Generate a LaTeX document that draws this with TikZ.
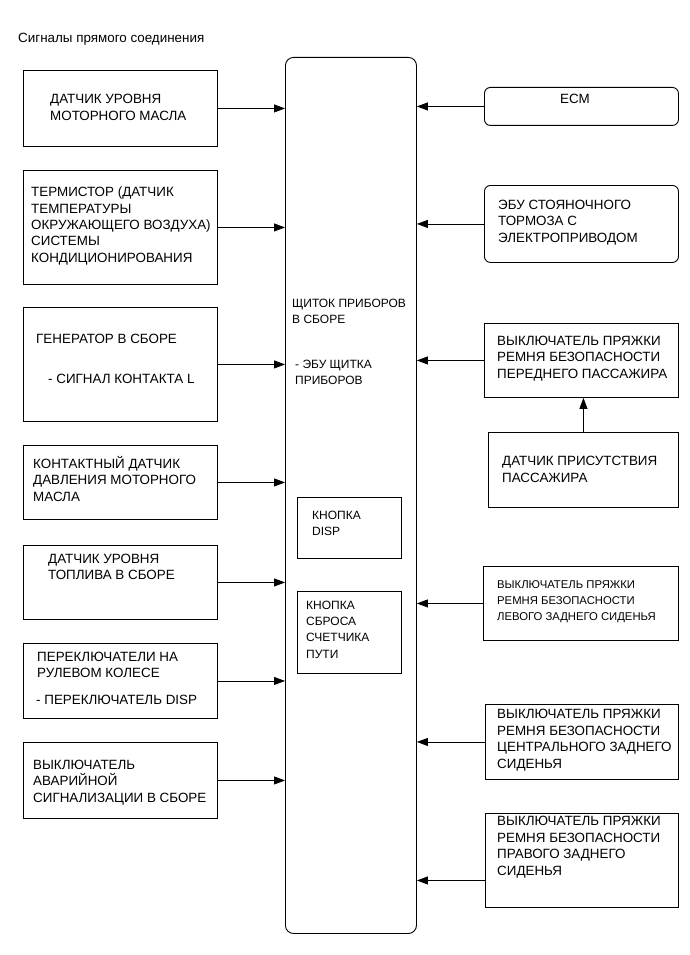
\documentclass[tikz,border=0pt]{standalone}
\usepackage{fontspec}
\setmainfont{Liberation Sans}
\usetikzlibrary{arrows.meta,calc}
\tikzset{
  box/.style={draw, line width=0.9pt, anchor=north west, inner sep=0pt},
  rbox/.style={box, rounded corners=6pt},
  lbl/.style={anchor=base west, inner sep=0pt, align=left, font=\fontsize{13.4}{16.5}\selectfont},
  slbl/.style={lbl, font=\fontsize{11.3}{16}\selectfont},
  mlbl/.style={lbl, font=\fontsize{12}{15.8}\selectfont},
  arr/.style={line width=0.8pt, -{Triangle[length=11pt,width=8pt]}},
}
\begin{document}
\begin{tikzpicture}[x=1pt,y=-1pt]
\useasboundingbox (0,0) rectangle (690,955);
\node[anchor=base west, inner sep=0pt, font=\fontsize{13.4}{16}\selectfont] (title) at (18,43) {Сигналы прямого соединения};
% main (multi-line labels are placed by the baseline of their last line)
\node[box, rounded corners=8pt, minimum width=131pt, minimum height=876pt] (main) at (285,57) {};
\node[mlbl] (mt1) at (292,323.5) {ЩИТОК ПРИБОРОВ\\В СБОРЕ};
\node[mlbl] (mt2) at (295,384) {- ЭБУ ЩИТКА\\ПРИБОРОВ};
\node[box, minimum width=104pt, minimum height=61pt] (disp) at (297,497) {};
\node[mlbl] (dt) at (312,535) {КНОПКА\\DISP};
\node[box, minimum width=104pt, minimum height=82pt] (reset) at (297,591) {};
\node[mlbl, font=\fontsize{12}{16.3}\selectfont] (rt) at (306,658) {КНОПКА\\СБРОСА\\СЧЕТЧИКА\\ПУТИ};
% left boxes
\node[box, minimum width=194pt, minimum height=76pt] (L1) at (23,70) {};
\node[lbl] (t1) at (50,120.5) {ДАТЧИК УРОВНЯ\\МОТОРНОГО МАСЛА};
\node[box, minimum width=194pt, minimum height=114pt] (L2) at (23,170) {};
\node[lbl, font=\fontsize{13.4}{16.3}\selectfont] (t2) at (31,262) {ТЕРМИСТОР (ДАТЧИК\\ТЕМПЕРАТУРЫ\\ОКРУЖАЮЩЕГО ВОЗДУХА)\\СИСТЕМЫ\\КОНДИЦИОНИРОВАНИЯ};
\node[box, minimum width=194pt, minimum height=114pt] (L3) at (23,307) {};
\node[lbl] (t3a) at (36,343) {ГЕНЕРАТОР В СБОРЕ};
\node[lbl] (t3b) at (48,383) {- СИГНАЛ КОНТАКТА L};
\node[box, minimum width=194pt, minimum height=74pt] (L4) at (23,445) {};
\node[lbl] (t4) at (33,501) {КОНТАКТНЫЙ ДАТЧИК\\ДАВЛЕНИЯ МОТОРНОГО\\МАСЛА};
\node[box, minimum width=194pt, minimum height=74pt] (L5) at (23,545) {};
\node[lbl] (t5) at (48,579.5) {ДАТЧИК УРОВНЯ\\ТОПЛИВА В СБОРЕ};
\node[box, minimum width=194pt, minimum height=75pt] (L6) at (23,643) {};
\node[lbl] (t6a) at (37,677.5) {ПЕРЕКЛЮЧАТЕЛИ НА\\РУЛЕВОМ КОЛЕСЕ};
\node[lbl] (t6b) at (36,704) {- ПЕРЕКЛЮЧАТЕЛЬ DISP};
\node[box, minimum width=194pt, minimum height=76pt] (L7) at (23,742) {};
\node[lbl] (t7) at (33,802) {ВЫКЛЮЧАТЕЛЬ\\АВАРИЙНОЙ\\СИГНАЛИЗАЦИИ В СБОРЕ};
% right boxes
\node[rbox, minimum width=194pt, minimum height=38pt] (R1) at (484,87) {};
\node[lbl, anchor=base] (u1) at (575,104) {ECM};
\node[rbox, minimum width=194pt, minimum height=77pt] (R2) at (484,185) {};
\node[lbl] (u2) at (498,242) {ЭБУ СТОЯНОЧНОГО\\ТОРМОЗА С\\ЭЛЕКТРОПРИВОДОМ};
\node[box, minimum width=194pt, minimum height=74pt] (R3) at (484,323) {};
\node[lbl] (u3) at (497,378) {ВЫКЛЮЧАТЕЛЬ ПРЯЖКИ\\РЕМНЯ БЕЗОПАСНОСТИ\\ПЕРЕДНЕГО ПАССАЖИРА};
\node[box, minimum width=190pt, minimum height=75pt] (S) at (488,432) {};
\node[lbl] (us) at (502,482) {ДАТЧИК ПРИСУТСТВИЯ\\ПАССАЖИРА};
\node[box, minimum width=195pt, minimum height=74pt] (R4) at (483,566) {};
\node[slbl] (u4) at (497,620) {ВЫКЛЮЧАТЕЛЬ ПРЯЖКИ\\РЕМНЯ БЕЗОПАСНОСТИ\\ЛЕВОГО ЗАДНЕГО СИДЕНЬЯ};
\node[box, minimum width=193pt, minimum height=75pt] (R5) at (485,704) {};
\node[lbl] (u5) at (497,768) {ВЫКЛЮЧАТЕЛЬ ПРЯЖКИ\\РЕМНЯ БЕЗОПАСНОСТИ\\ЦЕНТРАЛЬНОГО ЗАДНЕГО\\СИДЕНЬЯ};
\node[box, minimum width=193pt, minimum height=94pt] (R6) at (485,813) {};
\node[lbl] (u6) at (497,875) {ВЫКЛЮЧАТЕЛЬ ПРЯЖКИ\\РЕМНЯ БЕЗОПАСНОСТИ\\ПРАВОГО ЗАДНЕГО\\СИДЕНЬЯ};
% arrows
\foreach \b in {L1,L2,L3,L4,L5,L6,L7}
  \draw[arr] (\b.east) -- (\b.east -| main.west);
\foreach \b in {R1,R2,R3,R4,R5}
  \draw[arr] (\b.west) -- (\b.west -| main.east);
\draw[arr] ([yshift=-20pt]R6.west) -- ([yshift=-20pt]R6.west -| main.east);
\draw[arr] (S.north) -- (S.north |- R3.south);
\end{tikzpicture}
\end{document}
